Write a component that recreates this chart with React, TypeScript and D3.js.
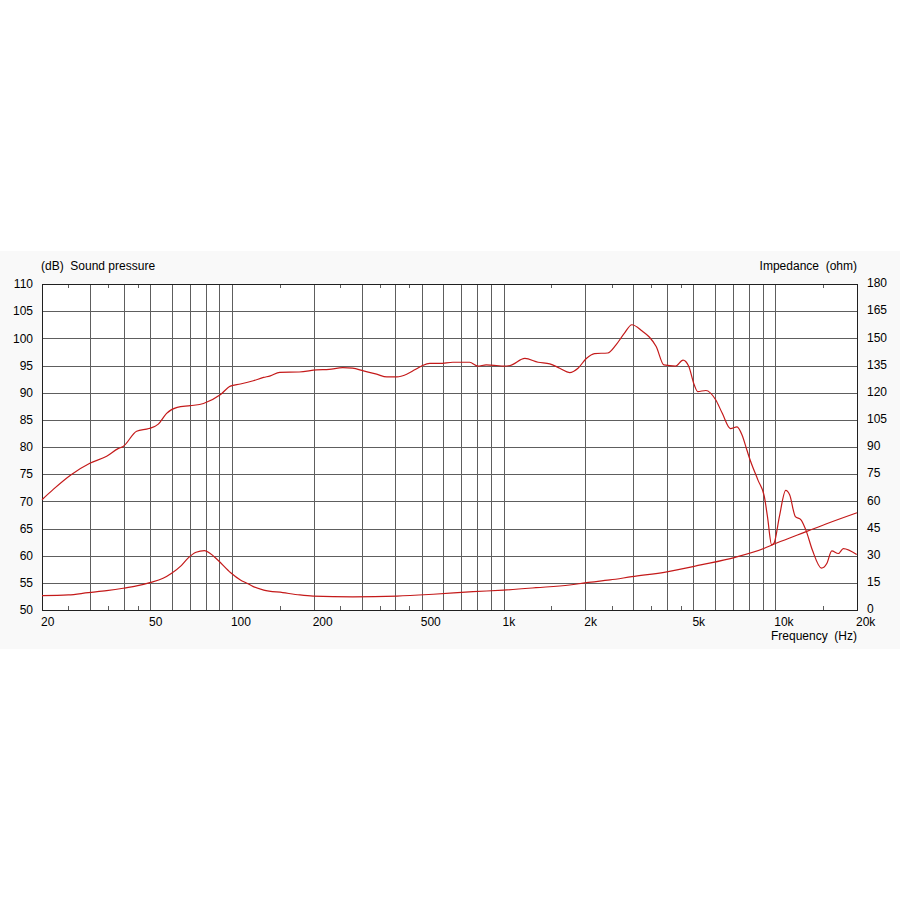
import React from "react";
import * as d3 from "d3";

const splFreq = [20, 22, 25.6, 30, 34.6, 38.1, 39.8, 44.6, 49.5, 53.6, 57.5, 62.9, 70.3, 78.6, 90.6, 98.7, 107.5, 119.9, 130.8, 138.5, 150, 177, 205, 228, 256, 278, 305, 341, 372, 405, 440, 471, 499, 535, 582, 651, 750, 805, 863, 941, 1000, 1057, 1198, 1340, 1480, 1610, 1751, 1880, 2017, 2163, 2418, 2594, 2782, 2967, 3246, 3447, 3646, 3893, 4294, 4578, 4800, 5037, 5184, 5557, 6036, 6385, 6843, 7235, 7548, 7870, 8085, 8640, 9120, 9364, 9700, 9900, 10360, 10930, 11300, 11860, 12440, 12970, 13710, 14800, 15500, 16150, 17070, 17810, 19950];
const splDb = [70.3, 72.2, 74.9, 77.0, 78.3, 79.7, 80.1, 82.9, 83.4, 84.2, 86.2, 87.3, 87.6, 88.0, 89.6, 91.2, 91.6, 92.2, 92.8, 93.1, 93.75, 93.8, 94.2, 94.3, 94.6, 94.5, 94.0, 93.4, 92.9, 92.9, 93.4, 94.2, 94.9, 95.4, 95.4, 95.6, 95.6, 94.9, 95.1, 95.0, 94.9, 95.0, 96.3, 95.6, 95.3, 94.5, 93.7, 94.5, 96.3, 97.2, 97.3, 98.8, 100.9, 102.5, 101.3, 100.2, 98.5, 95.1, 94.9, 96.0, 94.9, 91.4, 90.2, 90.4, 88.7, 86.2, 83.4, 83.7, 82.2, 79.4, 77.6, 73.9, 70.85, 67.2, 62.0, 62.3, 67.2, 72.0, 71.2, 67.2, 66.6, 64.7, 61.0, 57.7, 58.6, 60.9, 60.4, 61.3, 60.2];

const impFreq = [20, 25, 29.6, 34.6, 39.8, 44.6, 49.9, 55.8, 60, 65.1, 68.8, 73.8, 79.3, 83, 88.7, 99, 107.5, 113.6, 119.9, 131, 154, 178, 199, 278, 405, 551, 772, 1000, 1316, 1751, 2017, 2465, 2968, 3990, 5320, 7120, 9120, 9870, 12070, 15370, 20000];
const impOhm = [7.9, 8.3, 9.6, 10.7, 12.0, 13.3, 15.1, 17.5, 20.3, 24.5, 28.5, 31.9, 32.8, 31.3, 27.6, 20.6, 16.6, 14.8, 12.9, 11.0, 9.6, 8.3, 7.7, 7.3, 7.7, 8.7, 10.1, 11.0, 12.3, 13.8, 15.1, 16.6, 18.4, 21.1, 24.9, 29.1, 34.1, 36.3, 41.4, 47.5, 53.7];

const gridFreqs = [30, 40, 50, 60, 70, 80, 90, 100, 200, 300, 400, 500, 600, 700, 800, 900, 1000, 2000, 3000, 4000, 5000, 6000, 7000, 8000, 9000, 10000];
const minorTickFreqs = [25, 35, 45, 150, 250, 350, 450, 1500, 2500, 3500, 4500, 15000];
const xLabelFreqs = [20, 50, 100, 200, 500, 1000, 2000, 5000, 10000, 20000];
const xLabelTexts = ["20", "50", "100", "200", "500", "1k", "2k", "5k", "10k", "20k"];
const dbTicks = [50, 55, 60, 65, 70, 75, 80, 85, 90, 95, 100, 105, 110];
const ohmTicks = [0, 15, 30, 45, 60, 75, 90, 105, 120, 135, 150, 165, 180];

const L = 42, R = 857, T = 284, B = 610;
const FONT = "'Liberation Sans', Arial, sans-serif";
const CURVE = "#c41a1a";
const GRID = "#5e5e5e";

export default function App() {
  const x = d3.scaleLog().domain([20, 20000]).range([L, R]);
  const yDb = d3.scaleLinear().domain([50, 110]).range([B, T]);
  const yOhm = d3.scaleLinear().domain([0, 180]).range([B, T]);

  const splLine = d3.line<number>().x((_, i) => x(splFreq[i])).y((d) => yDb(d)).curve(d3.curveMonotoneX);
  const impLine = d3.line<number>().x((_, i) => x(impFreq[i])).y((d) => yOhm(d)).curve(d3.curveMonotoneX);

  const r = (v: number) => Math.round(v) + 0.5;

  return (
    <svg width={900} height={900} style={{ position: "absolute", left: 0, top: 0, background: "#ffffff" }}>
      <rect x={0} y={251} width={900} height={398} fill="#f9f9f9" />
      <rect x={L} y={T} width={R - L} height={B - T} fill="#ffffff" />
      <g shapeRendering="crispEdges">
        {gridFreqs.map((f) => (
          <line key={"v" + f} x1={r(x(f))} x2={r(x(f))} y1={T} y2={B} stroke={GRID} strokeWidth={1} />
        ))}
        {dbTicks.slice(1, -1).map((d) => (
          <line key={"h" + d} x1={L} x2={R} y1={r(yDb(d))} y2={r(yDb(d))} stroke={GRID} strokeWidth={1} />
        ))}
        {minorTickFreqs.map((f) => (
          <g key={"t" + f}>
            <line x1={r(x(f))} x2={r(x(f))} y1={T} y2={T + 4} stroke={GRID} />
            <line x1={r(x(f))} x2={r(x(f))} y1={B - 4} y2={B} stroke={GRID} />
          </g>
        ))}
        <rect x={L + 0.5} y={T + 0.5} width={R - L} height={B - T} fill="none" stroke="#202020" strokeWidth={1} />
      </g>
      <path d={impLine(impOhm) || ""} fill="none" stroke={CURVE} strokeWidth={1.2} />
      <path d={splLine(splDb) || ""} fill="none" stroke={CURVE} strokeWidth={1.2} />
      <g fontFamily={FONT} fontSize={12} fill="#000">
        {dbTicks.map((d) => (
          <text key={"l" + d} x={33} y={yDb(d)} dy="0.35em" textAnchor="end">{d}</text>
        ))}
        {ohmTicks.map((o) => (
          <text key={"r" + o} x={867} y={yOhm(o) - 1} dy="0.35em" textAnchor="start">{o}</text>
        ))}
        {xLabelFreqs.map((f, i) => (
          <text key={"x" + f} x={x(f) - 1} y={626} textAnchor="start">{xLabelTexts[i]}</text>
        ))}
        <text x={41} y={270}>{"(dB)\u00a0 Sound pressure"}</text>
        <text x={857} y={270} textAnchor="end">{"Impedance\u00a0 (ohm)"}</text>
        <text x={857} y={640} textAnchor="end">{"Frequency\u00a0 (Hz)"}</text>
      </g>
    </svg>
  );
}
